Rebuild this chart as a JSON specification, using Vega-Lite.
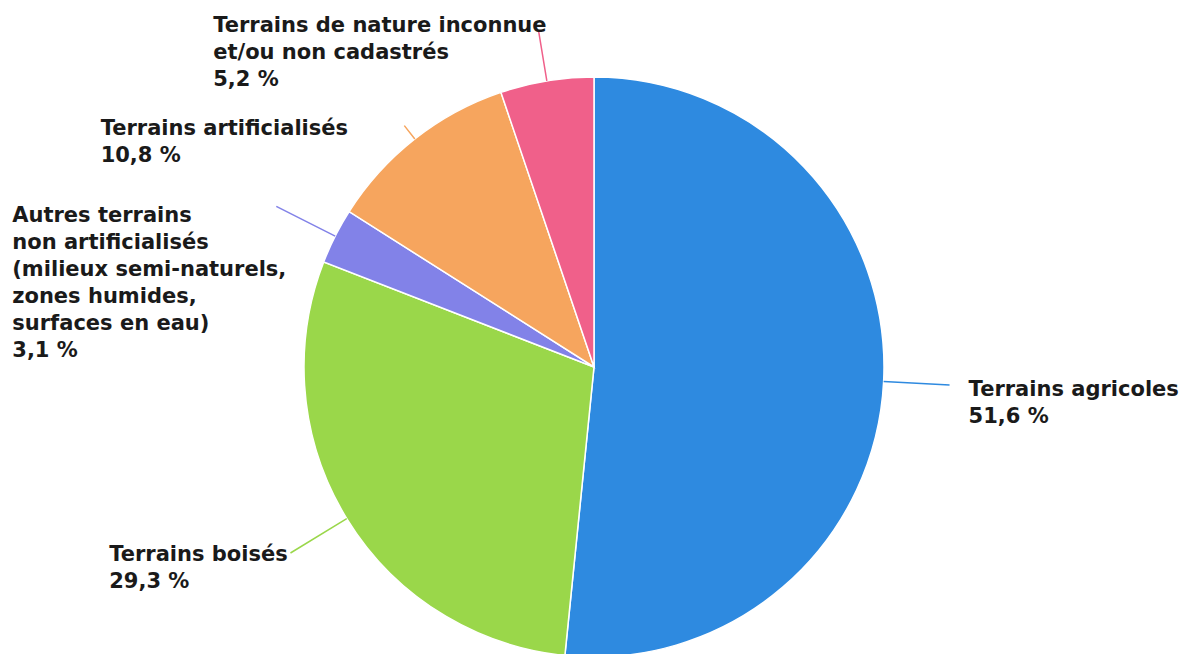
{
  "$schema": "https://vega.github.io/schema/vega-lite/v6.json",
  "width": 1174,
  "height": 574,
  "padding": {"left": 7, "top": 80, "right": 0, "bottom": 0},
  "autosize": {"type": "none"},
  "background": "white",
  "config": {"view": {"stroke": null}},
  "data": {
    "values": [
      {"ordre": 1, "categorie": "Terrains agricoles", "pct": 51.6, "etiquette": "Terrains agricoles\n51,6 %"},
      {"ordre": 2, "categorie": "Terrains boisés", "pct": 29.3, "etiquette": "Terrains boisés\n29,3 %"},
      {"ordre": 3, "categorie": "Autres terrains non artificialisés (milieux semi-naturels, zones humides, surfaces en eau)", "pct": 3.1, "etiquette": "Autres terrains\nnon artificialisés\n(milieux semi-naturels,\nzones humides,\nsurfaces en eau)\n3,1 %"},
      {"ordre": 4, "categorie": "Terrains artificialisés", "pct": 10.8, "etiquette": "Terrains artificialisés\n10,8 %"},
      {"ordre": 5, "categorie": "Terrains de nature inconnue et/ou non cadastrés", "pct": 5.2, "etiquette": "Terrains de nature inconnue\net/ou non cadastrés\n5,2 %"}
    ]
  },
  "layer": [
    {
      "mark": {"type": "arc", "outerRadius": 290, "stroke": "white", "strokeWidth": 1.5},
      "encoding": {
        "theta": {"field": "pct", "type": "quantitative", "stack": true},
        "order": {"field": "ordre", "type": "quantitative"},
        "color": {
          "field": "categorie",
          "type": "nominal",
          "legend": null,
          "scale": {
            "domain": [
              "Terrains agricoles",
              "Terrains boisés",
              "Autres terrains non artificialisés (milieux semi-naturels, zones humides, surfaces en eau)",
              "Terrains artificialisés",
              "Terrains de nature inconnue et/ou non cadastrés"
            ],
            "range": ["#2E8AE0", "#9AD74A", "#8282E8", "#F6A55E", "#F0608A"]
          }
        }
      }
    },
    {
      "transform": [
        {"stack": "pct", "groupby": [], "sort": [{"field": "ordre", "order": "ascending"}], "as": ["debut", "fin"]}
      ],
      "mark": {
        "type": "arc",
        "filled": false,
        "radius": {"expr": "datum.ordre == 4 ? 307 : datum.ordre == 5 ? 340 : 356"},
        "radius2": 290,
        "thetaOffset": {"expr": "PI * (datum.fin - datum.debut) / 100"},
        "theta2Offset": {"expr": "-PI * (datum.fin - datum.debut) / 100"},
        "strokeWidth": 1.5
      },
      "encoding": {
        "theta": {"field": "debut", "type": "quantitative"},
        "theta2": {"field": "fin"},
        "color": {"field": "categorie", "type": "nominal", "legend": null}
      }
    },
    {
      "mark": {
        "type": "text",
        "radius": 300,
        "align": "left",
        "baseline": "alphabetic",
        "lineBreak": "\n",
        "lineHeight": 27,
        "font": "DejaVu Sans",
        "fontWeight": "bold",
        "fontSize": 21,
        "color": "#1a1a1a",
        "dx": {"expr": "[75, -229, -314, -308, -332][datum.ordre - 1]"},
        "dy": {"expr": "[14, 37, -10, 4, -39][datum.ordre - 1]"}
      },
      "encoding": {
        "theta": {"field": "pct", "type": "quantitative", "stack": true},
        "order": {"field": "ordre", "type": "quantitative"},
        "text": {"field": "etiquette", "type": "nominal"}
      }
    }
  ]
}
